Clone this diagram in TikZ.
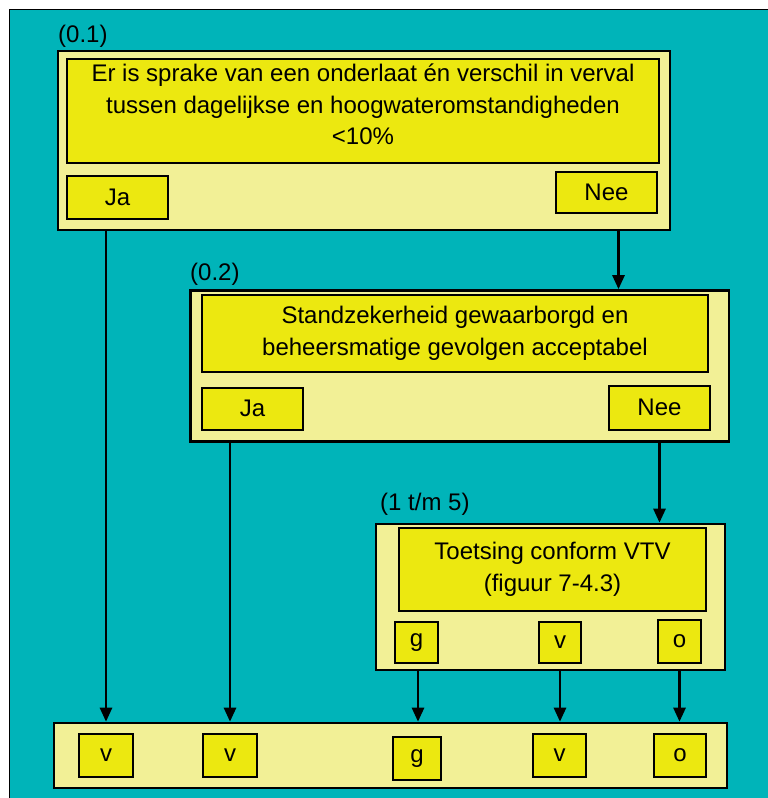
\documentclass[tikz,border=0pt]{standalone}
\usepackage{fontspec}
\setmainfont{Liberation Sans}
\usetikzlibrary{arrows.meta}
\definecolor{teal1}{RGB}{0,180,185}
\definecolor{paleY}{RGB}{242,240,150}
\definecolor{brightY}{RGB}{236,232,16}
\tikzset{
  outerbox/.style={draw=black, line width=2.6pt, fill=paleY, inner sep=0pt},
  innerbox/.style={draw=black, line width=2pt, fill=brightY, inner sep=0pt, align=center,
     font=\fontsize{24}{31.5}\selectfont},
  smallbox/.style={draw=black, line width=2pt, fill=brightY, inner sep=0pt,
     font=\fontsize{24}{28}\selectfont},
  lbl/.style={inner sep=0pt, anchor=base west, font=\fontsize{24}{28}\selectfont},
  arr/.style={line width=2.6pt, -{Triangle[length=14pt,width=12pt]}}
}
\begin{document}
\begin{tikzpicture}[x=1pt,y=-1pt]
\useasboundingbox (0,0) rectangle (768,798);
\fill[white] (0,0) rectangle (768,798);
\draw[fill=teal1, line width=1.5pt] (9.5,9.5) rectangle (790,820);

% Box 1
\node[lbl] (l1) at (58,42) {(0.1)};
\node[outerbox, minimum width=612pt, minimum height=179pt] (b1) at (364,140.5) {};
\node[innerbox, minimum width=592pt, minimum height=104pt, text depth=13pt] (q1) at (363,111)
  {Er is sprake van een onderlaat én verschil in verval\\tussen dagelijkse en hoogwateromstandigheden\\<10\%};
\node[smallbox, minimum width=101pt, minimum height=43pt] (ja1) at (117.5,197.5) {Ja};
\node[smallbox, minimum width=101pt, minimum height=41pt] (nee1) at (606.5,192.5) {Nee};

% Box 2
\node[lbl] (l2) at (190,280) {(0.2)};
\node[outerbox, minimum width=538.5pt, minimum height=151pt] (b2) at (459.75,366) {};
\node[innerbox, minimum width=506pt, minimum height=77pt] (q2) at (455,333.5)
  {Standzekerheid gewaarborgd en\\beheersmatige gevolgen acceptabel};
\node[smallbox, minimum width=101pt, minimum height=42pt] (ja2) at (252.5,408.5) {Ja};
\node[smallbox, minimum width=101pt, minimum height=44pt] (nee2) at (659.5,407.5) {Nee};

% Box 3
\node[lbl] (l3) at (380,510) {(1 t/m 5)};
\node[outerbox, minimum width=349pt, minimum height=146pt] (b3) at (550.5,597) {};
\node[innerbox, minimum width=307pt, minimum height=83pt] (q3) at (552.5,569.5)
  {Toetsing conform VTV\\(figuur 7-4.3)};
\node[smallbox, minimum width=43pt, minimum height=41pt] (g3) at (416.5,642.5) {g};
\node[smallbox, minimum width=42pt, minimum height=41pt] (v3) at (560,642.5) {v};
\node[smallbox, minimum width=43pt, minimum height=43pt] (o3) at (679.5,641.5) {o};

% Bottom box
\node[outerbox, minimum width=673pt, minimum height=65pt] (bot) at (390.5,755.5) {};
\node[smallbox, minimum width=54pt, minimum height=43pt] (r1) at (106,755.5) {v};
\node[smallbox, minimum width=54pt, minimum height=43pt] (r2) at (230,755.5) {v};
\node[smallbox, minimum width=48pt, minimum height=43pt] (r3) at (417,758.5) {g};
\node[smallbox, minimum width=53pt, minimum height=43pt] (r4) at (559.5,755.5) {v};
\node[smallbox, minimum width=52pt, minimum height=43pt] (r5) at (680,755.5) {o};

% Connectors
\draw[arr] (r1 |- b1.south) -- (r1 |- bot.north);
\draw[arr] ([xshift=12pt]nee1.south |- b1.south) -- ([xshift=12pt]nee1.south |- b2.north);
\draw[arr] ([yshift=3pt]r2 |- b2.south) -- (r2 |- bot.north);
\draw[arr] (nee2.south |- b2.south) -- (nee2.south |- b3.north);
\draw[arr] ([xshift=1.5pt]g3.south |- b3.south) -- ([xshift=1.5pt]g3.south |- bot.north);
\draw[arr] (v3.south |- b3.south) -- (v3.south |- bot.north);
\draw[arr] (o3.south |- b3.south) -- (o3.south |- bot.north);
\end{tikzpicture}
\end{document}
